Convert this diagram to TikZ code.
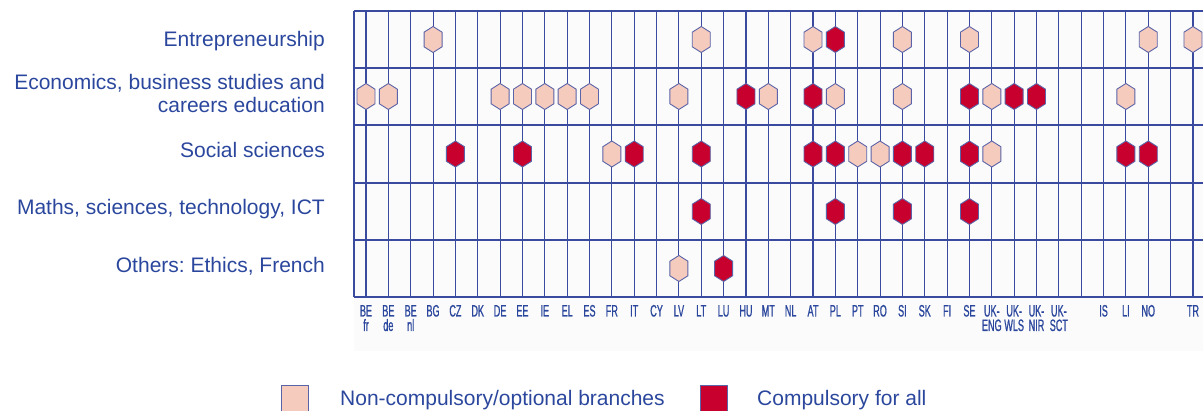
\documentclass[tikz,border=0pt]{standalone}
\usepackage{fontspec}
\setmainfont{Liberation Sans}
\newfontfamily\condfont[FakeStretch=0.55,FakeBold=0.8]{Liberation Sans}
\definecolor{txtblue}{HTML}{2B479D}
\definecolor{gridblue}{HTML}{3A4A9E}
\definecolor{hexedge}{HTML}{5B64A8}
\definecolor{lightfill}{HTML}{F5CBBE}
\definecolor{darkfill}{HTML}{C8002E}
\definecolor{chartbg}{HTML}{FBFBFB}
\frenchspacing
\begin{document}
\begin{tikzpicture}[x=1pt,y=-1pt,
  gridline/.style={draw=gridblue, line width=1.1pt},
  hexshape/.style={draw=hexedge, line width=0.9pt, line join=miter},
  rowlabel/.style={font=\fontsize{21}{23}\selectfont, text=txtblue, inner sep=0pt, anchor=base east},
  collabel/.style={font=\condfont\fontsize{16.5}{16.5}\selectfont, text=txtblue, inner sep=0pt, anchor=base},
  legbox/.style={draw=hexedge, line width=0.9pt, minimum width=27pt, minimum height=26pt, inner sep=0pt},
  legtext/.style={font=\fontsize{21}{23}\selectfont, text=txtblue, inner sep=0pt, anchor=base west},
  hexl/.pic={\path[hexshape, fill=lightfill] (0,-13)--(9,-7.3)--(9,7.3)--(0,13)--(-9,7.3)--(-9,-7.3)--cycle;},
  hexd/.pic={\path[hexshape, fill=darkfill] (0,-13)--(9,-7.3)--(9,7.3)--(0,13)--(-9,7.3)--(-9,-7.3)--cycle;},
]
\useasboundingbox (0,0) rectangle (1203,411);
% chart background
\fill[chartbg] (354,11) rectangle (1203,351);
% grid
\foreach \col in {0,...,37}
  \draw[gridline] ({366+22.35*\col},11) -- ({366+22.35*\col},297);
\foreach \yy in {11,68,125,183,240,297}
  \draw[gridline] (354,\yy) -- (1203,\yy);
\draw[gridline] (354,11) -- (354,297);

% row labels
\node[rowlabel] (r1) at (325,47) {Entrepreneurship};
\node[rowlabel, anchor=east, align=right] (r2) at (325,93) {Economics, business studies and\\careers education};
\node[rowlabel] (r3) at (325,158) {Social sciences};
\node[rowlabel] (r4) at (325,215) {Maths, sciences, technology, ICT};
\node[rowlabel] (r5) at (325,272.5) {Others: Ethics, French};

% row 1: Entrepreneurship
\foreach \col in {3,15,20,24,27,35,37}
  \pic (a-\col) at ({366+22.35*\col},39.5) {hexl};
\foreach \col in {21}
  \pic (a-\col) at ({366+22.35*\col},39.5) {hexd};
% row 2: Economics
\foreach \col in {0,1,6,7,8,9,10,14,18,21,24,28,34}
  \pic (b-\col) at ({366+22.35*\col},96.5) {hexl};
\foreach \col in {17,20,27,29,30}
  \pic (b-\col) at ({366+22.35*\col},96.5) {hexd};
% row 3: Social sciences
\foreach \col in {11,22,23,28}
  \pic (c-\col) at ({366+22.35*\col},154) {hexl};
\foreach \col in {4,7,12,15,20,21,24,25,27,34,35}
  \pic (c-\col) at ({366+22.35*\col},154) {hexd};
% row 4: Maths
\foreach \col in {15,21,24,27}
  \pic (d-\col) at ({366+22.35*\col},211.5) {hexd};
% row 5: Others
\foreach \col in {14}
  \pic (e-\col) at ({366+22.35*\col},268.5) {hexl};
\foreach \col in {16}
  \pic (e-\col) at ({366+22.35*\col},268.5) {hexd};

% column labels
\foreach \col/\txt in {0/BE,1/BE,2/BE,3/BG,4/CZ,5/DK,6/DE,7/EE,8/IE,9/EL,10/ES,11/FR,12/IT,13/CY,14/LV,15/LT,16/LU,17/HU,18/MT,19/NL,20/AT,21/PL,22/PT,23/RO,24/SI,25/SK,26/FI,27/SE,28/UK-,29/UK-,30/UK-,31/UK-,33/IS,34/LI,35/NO,37/TR}
  \node[collabel] (k\col) at ({366+22.35*\col},316.5) {\txt};
\foreach \col/\txt in {0/fr,1/de,2/nl,28/ENG,29/WLS,30/NIR,31/SCT}
  \node[collabel] (m\col) at ({366+22.35*\col},331) {\txt};

% legend
\node[legbox, fill=lightfill] (leg1) at (294.5,398) {};
\node[legtext] (legt1) at (340,406) {Non-compulsory/optional branches};
\node[legbox, fill=darkfill] (leg2) at (713.5,398) {};
\node[legtext] (legt2) at (757,406) {Compulsory for all};
\end{tikzpicture}
\end{document}
